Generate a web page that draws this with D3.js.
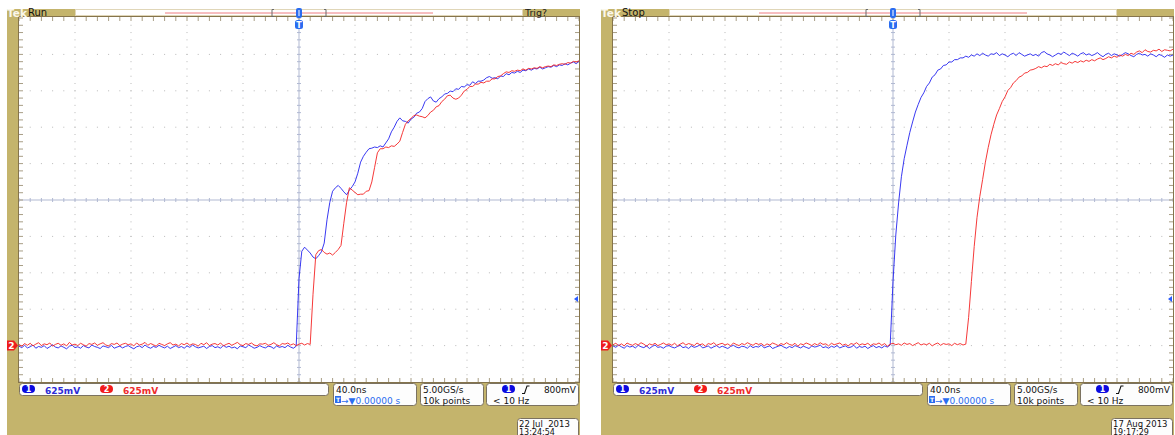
<!DOCTYPE html>
<html>
<head>
<meta charset="utf-8">
<script src="https://cdn.jsdelivr.net/npm/d3@7/dist/d3.min.js"></script>
<style>
  body { margin: 0; background: #fff; }
  svg { display: block; }
  text { font-family: 'DejaVu Sans', sans-serif; white-space: pre; }
</style>
</head>
<body>
<div class="scope-chart"></div>
<script>
// graticule divisions: 40 ns/div horizontally, 625 mV/div vertically (ground 4 div below centre)
const timeDivNs = [-200, -160, -120, -80, -40, 0, 40, 80, 120, 160, 200];
const voltDivMv = [-625, 0, 625, 1250, 1875, 2500, 3125, 3750, 4375, 5000, 5625];
const sampleStartNs = -200;
const sampleStepNs = 2;
const triggerLevelMv = 800;

// record of the "Run" capture (22 Jul 2013), mV, one value per 2 ns
const runCh1 = [
  -10, -35, 5, -40, -20, 10, -45, -15, -30, 0,
  -50, -20, 15, -25, -40, -5, -30, -55, -10, 5,
  -35, -20, -45, 0, -25, -40, 10, -15, -30, -50,
  -5, -20, -35, 5, -45, -25, -10, -40, -15, 0,
  -30, -55, -20, -5, -35, 10, -25, -45, -15, -30,
  5, -20, -40, -10, -50, -25, 0, -35, -15, -45,
  -5, -30, 10, -20, -40, -25, -10, -50, -15, 0,
  -35, -20, -45, 5, -30, -10, -40, -25, -55, -5,
  -20, -35, 10, -15, -45, -30, 0, -25, -40, -10,
  -20, -50, -5, -30, -15, -35, 5, -25, -45, -10,
  1150, 1620, 1690, 1640, 1590, 1520, 1490, 1545, 1610, 1760,
  2160, 2460, 2650, 2710, 2750, 2700, 2640, 2590, 2670, 2730,
  2810, 2960, 3150, 3250, 3320, 3380, 3390, 3410, 3400, 3430,
  3410, 3480, 3550, 3670, 3750, 3850, 3910, 3860, 3850, 3820,
  3890, 3920, 3990, 4010, 4070, 4190, 4240, 4270, 4200, 4180,
  4240, 4270, 4320, 4330, 4370, 4360, 4410, 4400, 4450, 4440,
  4480, 4470, 4530, 4500, 4540, 4540, 4560, 4600, 4620, 4590,
  4600, 4580, 4630, 4620, 4670, 4650, 4690, 4680, 4710, 4690,
  4730, 4720, 4750, 4730, 4760, 4750, 4780, 4750, 4770, 4790,
  4780, 4810, 4790, 4820, 4810, 4840, 4820, 4850, 4870, 4840,
  4880
];
const runCh2 = [
  20, -10, 35, 5, 40, -5, 25, 50, 0, 30,
  15, 45, -10, 20, 40, 5, 30, -5, 55, 10,
  25, 0, 40, 15, -10, 35, 20, 45, 5, 30,
  50, 10, -5, 35, 20, 45, 0, 25, 40, 15,
  30, -5, 45, 10, 25, 55, 5, 35, 15, -10,
  40, 20, 0, 30, 50, 10, 25, -5, 35, 15,
  45, 5, 30, 20, -10, 40, 15, 50, 0, 25,
  35, 10, 45, -5, 20, 40, 5, 30, 55, 15,
  0, 35, 20, 45, 10, -5, 30, 25, 40, 5,
  20, 50, 15, -5, 35, 25, 45, 10, 30, 0,
  25, 40, 10, 35, 20, 880, 1560, 1630, 1650, 1600,
  1570, 1590, 1555, 1600, 1650, 1720, 2100, 2460, 2710, 2670,
  2630, 2590, 2600, 2600, 2650, 2660, 2810, 3060, 3310, 3380,
  3380, 3410, 3400, 3430, 3420, 3460, 3510, 3660, 3800, 3860,
  3900, 3950, 3960, 3940, 3930, 3910, 3950, 4010, 4040, 4100,
  4120, 4190, 4230, 4290, 4300, 4250, 4230, 4250, 4300, 4370,
  4400, 4450, 4450, 4490, 4490, 4520, 4510, 4540, 4540, 4580,
  4580, 4620, 4630, 4670, 4700, 4690, 4720, 4710, 4730, 4720,
  4750, 4730, 4760, 4750, 4770, 4760, 4790, 4770, 4790, 4800,
  4790, 4820, 4810, 4830, 4840, 4830, 4860, 4850, 4880, 4870,
  4890
];

// record of the "Stop" capture (17 Aug 2013)
const stopCh1 = [
  -5, -30, 10, -20, -45, 0, -25, -10, -40, 5,
  -20, -35, -5, -50, -15, 10, -30, -20, -45, -10,
  0, -25, -40, -15, 5, -35, -20, -50, -5, -30,
  -15, 10, -40, -25, -5, -45, -20, 0, -35, -10,
  -30, -50, -15, 5, -25, -40, -10, -20, -45, 0,
  -35, -15, -25, 10, -40, -20, -5, -50, -30, -10,
  5, -25, -45, -15, -35, 0, -20, -40, -10, -30,
  -50, -5, -25, -15, 10, -35, -20, -45, -10, -30,
  0, -40, -20, -5, -35, -25, 5, -45, -15, -30,
  -10, -50, -20, 0, -35, -15, -40, -5, -25, 10,
  1100, 1900, 2450, 2900, 3210, 3440, 3660, 3840, 4010, 4140,
  4260, 4340, 4450, 4510, 4610, 4650, 4730, 4750, 4810, 4820,
  4870, 4870, 4910, 4910, 4940, 4940, 4970, 4950, 4990, 4970,
  5010, 4980, 5020, 4990, 4970, 5010, 5000, 5030, 4980, 5010,
  4990, 4960, 5000, 5020, 4980, 5030, 5000, 4970, 4990, 5010,
  4980, 5000, 4970, 5030, 5050, 5010, 4990, 4960, 4990, 5020,
  5000, 5040, 5010, 4980, 5020, 5000, 4970, 5010, 5030, 4990,
  5010, 4980, 5000, 5030, 4990, 4960, 5000, 5020, 4980, 5010,
  4990, 4970, 5000, 5030, 5010, 4980, 4960, 5000, 5020, 4990,
  5000, 4970, 5010, 4990, 4960, 5000, 4980, 4950, 4990, 4970,
  4990
];
const stopCh2 = [
  15, 40, 0, 30, -5, 45, 20, 5, 35, 10,
  50, 25, -10, 30, 10, 40, 0, 20, 45, 15,
  30, 5, 40, -5, 25, 50, 10, 35, 20, 0,
  45, 15, 30, -10, 35, 20, 50, 5, 25, 40,
  10, 30, -5, 45, 20, 0, 35, 15, 50, 25,
  5, 40, 20, 35, -5, 30, 10, 45, 25, 0,
  35, 15, 50, 20, 5, 40, -10, 30, 15, 45,
  25, 0, 35, 10, 50, 20, 30, -5, 40, 15,
  30, 45, 5, 25, -5, 35, 20, 50, 10, 30,
  15, 40, 0, 30, 20, 45, 5, 35, -10, 25,
  40, 15, 30, 5, 45, 20, 35, 0, 25, 50,
  10, 30, 15, 40, -5, 25, 45, 5, 35, 20,
  30, 0, 40, 15, 35, 10, 25, 480, 1100, 1700,
  2200, 2560, 2850, 3150, 3400, 3620, 3800, 3960, 4070, 4190,
  4270, 4380, 4430, 4510, 4550, 4610, 4630, 4680, 4690, 4730,
  4740, 4760, 4790, 4770, 4800, 4790, 4830, 4810, 4840, 4820,
  4860, 4840, 4830, 4870, 4850, 4880, 4860, 4890, 4870, 4900,
  4880, 4910, 4890, 4920, 4940, 4910, 4930, 4960, 4940, 4970,
  4950, 4990, 4970, 5000, 4980, 5020, 5000, 5040, 5060, 5030,
  5080, 5050, 5040, 5070, 5060, 5090, 5050, 5080, 5070, 5060,
  5090
];

// readouts
const chScaleLabels = ['625mV', '625mV'];
const timebaseLabel = '40.0ns';
const delayLabel = '\u2192\u25BC0.00000 s';
const sampleLabels = ['5.00GS/s', '10k points'];
const triggerLabels = ['800mV', '< 10 Hz'];

const scopes = [
  { ox: 0, state: 'Run', trig: 'Trig?', ch1: runCh1, ch2: runCh2, date: ['22 Jul  2013', '13:24:54'] },
  { ox: 594, state: 'Stop', trig: '', ch1: stopCh1, ch2: stopCh2, date: ['17 Aug 2013', '19:17:29'] },
];

const TAN = '#c4b46c';
const FRAME = '#85744c';
const CH1 = '#2424f0';
const CH2 = '#f42424';
const GRID = '#b9b9b9';
const CENTRE = '#b1b9d2';

const svg = d3
  .select('.scope-chart')
  .append('svg')
  .attr('width', 1175)
  .attr('height', 435);

svg.append('rect').attr('width', 1175).attr('height', 435).attr('fill', '#fff');

const drawScope = (scope, idx) => {
  const g = svg.append('g').attr('transform', `translate(${scope.ox}, 0)`);

  const xScale = d3
    .scaleLinear()
    .domain([timeDivNs[0], timeDivNs[timeDivNs.length - 1]])
    .range([19, 579]);
  const yScale = d3
    .scaleLinear()
    .domain([voltDivMv[0], voltDivMv[voltDivMv.length - 1]])
    .range([382, 18]);

  const minorX = d3.range(timeDivNs[0], timeDivNs[timeDivNs.length - 1] + 0.01, 8);
  const minorY = d3.range(voltDivMv[0], voltDivMv[voltDivMv.length - 1] + 0.01, 125);

  // bezel
  g.append('rect').attr('x', 7).attr('y', 9).attr('width', 573).attr('height', 430).attr('fill', TAN);
  g.append('rect').attr('x', 19).attr('y', 17).attr('width', 560).attr('height', 365).attr('fill', '#fff');

  // dotted graticule
  const inner = (arr) => arr.slice(1, -1);
  inner(timeDivNs).filter((t) => t !== 0).forEach((t) => {
    g.selectAll(null)
      .data(minorY.slice(1, -1))
      .enter()
      .append('rect')
      .attr('x', xScale(t) - 0.5)
      .attr('y', (v) => yScale(v) - 0.5)
      .attr('width', 1)
      .attr('height', 1)
      .attr('fill', GRID);
  });
  inner(voltDivMv).filter((v) => v !== 2500).forEach((v) => {
    g.selectAll(null)
      .data(minorX.slice(1, -1))
      .enter()
      .append('rect')
      .attr('x', (t) => xScale(t) - 0.5)
      .attr('y', yScale(v) - 0.5)
      .attr('width', 1)
      .attr('height', 1)
      .attr('fill', GRID);
  });

  // centre cross with minor ticks
  const cx = xScale(0);
  const cy = yScale(2500);
  g.append('line').attr('x1', 19).attr('x2', 579).attr('y1', cy).attr('y2', cy).attr('stroke', CENTRE);
  g.append('line').attr('x1', cx).attr('x2', cx).attr('y1', 17).attr('y2', 382).attr('stroke', CENTRE);
  g.selectAll(null)
    .data(minorX)
    .enter()
    .append('line')
    .attr('x1', (t) => xScale(t))
    .attr('x2', (t) => xScale(t))
    .attr('y1', cy - 2)
    .attr('y2', cy + 2)
    .attr('stroke', CENTRE);
  g.selectAll(null)
    .data(minorY)
    .enter()
    .append('line')
    .attr('x1', cx - 2)
    .attr('x2', cx + 2)
    .attr('y1', (v) => yScale(v))
    .attr('y2', (v) => yScale(v))
    .attr('stroke', CENTRE);

  // edge ticks
  g.selectAll(null)
    .data(minorX)
    .enter()
    .append('path')
    .attr('d', (t) => `M${xScale(t)},17V21M${xScale(t)},382V378`)
    .attr('stroke', '#a89e86');
  g.selectAll(null)
    .data(minorY)
    .enter()
    .append('path')
    .attr('d', (v) => `M19,${yScale(v)}H23M579,${yScale(v)}H575`)
    .attr('stroke', '#a89e86');
  g.append('rect')
    .attr('x', 18.5)
    .attr('y', 16.5)
    .attr('width', 561)
    .attr('height', 366)
    .attr('fill', 'none')
    .attr('stroke', FRAME);

  // traces
  g.append('clipPath')
    .attr('id', `clip-${idx}`)
    .append('rect')
    .attr('x', 19)
    .attr('y', 17)
    .attr('width', 560)
    .attr('height', 365);
  const line = d3
    .line()
    .x((d, i) => xScale(sampleStartNs + i * sampleStepNs))
    .y((d) => yScale(d));
  g.append('path')
    .attr('clip-path', `url(#clip-${idx})`)
    .attr('d', line(scope.ch1))
    .attr('fill', 'none')
    .attr('stroke', CH1)
    .attr('stroke-width', 1)
    .attr('stroke-opacity', 0.9);
  g.append('path')
    .attr('clip-path', `url(#clip-${idx})`)
    .attr('d', line(scope.ch2))
    .attr('fill', 'none')
    .attr('stroke', CH2)
    .attr('stroke-width', 1)
    .attr('stroke-opacity', 0.9);

  // ground marker for channel 2
  const gy = yScale(0);
  g.append('path')
    .attr('d', `M7,${gy - 5}H14L18,${gy}L14,${gy + 5}H7Z`)
    .attr('fill', '#ee1c1c');
  g.append('text')
    .attr('x', 11.5)
    .attr('y', gy + 3.5)
    .attr('text-anchor', 'middle')
    .style('font-size', '9px')
    .style('font-weight', 'bold')
    .attr('fill', '#fff')
    .text('2');

  // trigger level marker
  const ty = yScale(triggerLevelMv);
  g.append('path').attr('d', `M574,${ty}L578,${ty - 3}V${ty + 3}Z`).attr('fill', '#2a5cff');

  // top status bar
  g.append('rect').attr('x', 75.5).attr('y', 9.5).attr('width', 447).attr('height', 6).attr('fill', '#fff').attr('stroke', '#e0d6b8');
  if (scope.trig) {
    g.append('text').attr('x', 525).attr('y', 16).style('font-size', '9.5px').attr('fill', '#1a1a1a').text(scope.trig);
  }
  g.append('text').attr('x', 7).attr('y', 16.5).style('font-size', '10.5px').style('font-weight', 'bold').attr('fill', '#fbf7ea').text('Tek');
  g.append('text').attr('x', 28).attr('y', 16).style('font-size', '10px').attr('fill', '#111').text(scope.state);
  g.append('line').attr('x1', 165).attr('x2', 433).attr('y1', 13).attr('y2', 13).attr('stroke', '#ee7c80');
  [272, 326].forEach((bx, k) => {
    const dir = k === 0 ? 1 : -1;
    g.append('path')
      .attr('d', `M${bx + dir * 2},9.5H${bx}V16.5H${bx + dir * 2}`)
      .attr('fill', 'none')
      .attr('stroke', '#6a6a6a');
  });
  g.append('rect').attr('x', cx - 3).attr('y', 8).attr('width', 6).attr('height', 10).attr('rx', 2).attr('fill', '#2a6cf0');
  g.append('line').attr('x1', cx).attr('x2', cx).attr('y1', 10).attr('y2', 16).attr('stroke', '#fff');
  g.append('rect').attr('x', cx - 4).attr('y', 20).attr('width', 8).attr('height', 9).attr('rx', 2.5).attr('fill', '#2a6cf0');
  g.append('text').attr('x', cx).attr('y', 27.5).attr('text-anchor', 'middle').style('font-size', '8px').style('font-weight', 'bold').attr('fill', '#fff').text('T');

  // readout boxes
  const box = (x, y, w, h) =>
    g.append('rect')
      .attr('x', x + 0.5)
      .attr('y', y + 0.5)
      .attr('width', w)
      .attr('height', h)
      .attr('rx', 3)
      .attr('fill', '#fdfdfd')
      .attr('stroke', '#7b7260');
  const pill = (x, y, color, label) => {
    g.append('rect').attr('x', x).attr('y', y).attr('width', 13).attr('height', 8).attr('rx', 4).attr('fill', color);
    g.append('text')
      .attr('x', x + 6.5)
      .attr('y', y + 7)
      .attr('text-anchor', 'middle')
      .style('font-size', '8px')
      .style('font-weight', 'bold')
      .attr('fill', '#fff')
      .text(label);
  };
  const label = (x, y, txt, color = '#111') =>
    g.append('text').attr('x', x).attr('y', y).style('font-size', '9px').attr('fill', color).text(txt);

  box(19, 383, 309, 12);
  pill(22, 385, '#0a0ae0', '1');
  label(45, 393.5, chScaleLabels[0], '#2b2bd6').style('font-weight', 'bold');
  pill(100, 385, '#f21a1a', '2');
  label(123, 393.5, chScaleLabels[1], '#ee2a2a').style('font-weight', 'bold');

  box(333, 383, 83, 22);
  label(336, 393, timebaseLabel);
  g.append('rect').attr('x', 335).attr('y', 396).attr('width', 6).attr('height', 7).attr('fill', '#2a6cf0');
  g.append('text').attr('x', 338).attr('y', 402).attr('text-anchor', 'middle').style('font-size', '6px').style('font-weight', 'bold').attr('fill', '#fff').text('T');
  label(341, 403.5, delayLabel, '#2a6cf0');

  box(420, 383, 63, 22);
  label(423, 393, sampleLabels[0]);
  label(423, 403.5, sampleLabels[1]);

  box(486, 383, 92, 22);
  pill(502, 385, '#0a0ae0', '1');
  g.append('path').attr('d', 'M522,393.5H524.5L527,386H529.5').attr('fill', 'none').attr('stroke', '#111').attr('stroke-width', 1.1);
  label(576, 393, triggerLabels[0]).attr('text-anchor', 'end');
  label(493, 403.5, triggerLabels[1]);

  box(517, 418, 61, 22);
  label(519, 427, scope.date[0]).style('font-size', '8.5px');
  label(519, 434.5, scope.date[1]).style('font-size', '8px');
};

scopes.forEach(drawScope);
</script>
</body>
</html>
